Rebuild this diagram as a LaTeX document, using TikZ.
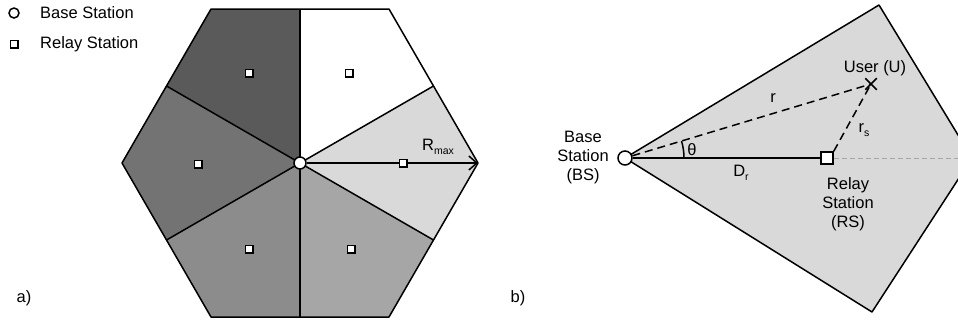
\documentclass[tikz,border=0pt]{standalone}
\usepackage{fontspec}
\setmainfont{Liberation Sans}
\usetikzlibrary{arrows.meta,shapes.misc,calc}
\newcommand\lowsub[1]{\raisebox{-0.28em}{\fontsize{10.5}{10.5}\selectfont #1}}
\definecolor{secA}{HTML}{5A5A5A}
\definecolor{secB}{HTML}{737373}
\definecolor{secC}{HTML}{8C8C8C}
\definecolor{secD}{HTML}{A6A6A6}
\definecolor{secE}{HTML}{D9D9D9}
\tikzset{
  edge/.style={line width=1.5pt, line join=round},
  bsnode/.style={circle, draw, fill=white, line width=1.5pt, inner sep=0pt, minimum size=#1},
  rsnode/.style={rectangle, draw, fill=white, line width=1.5pt, inner sep=0pt, minimum size=#1},
  lbl/.style={font=\fontsize{16.5}{19}\selectfont, inner sep=0pt},
  dashline/.style={line width=1.5pt, dash pattern=on 8pt off 5pt},
}
\begin{document}
\begin{tikzpicture}[x=1pt,y=-1pt]
\clip (0,0) rectangle (958,325);
\useasboundingbox (0,0) rectangle (958,325);

% ---- legend ----
\node[bsnode=10pt] (lgbs) at (14,13) {};
\node[rsnode=7.5pt] (lgrs) at (14,44) {};
\node[lbl, anchor=west] (lgbst) at (40,13) {Base Station};
\node[lbl, anchor=west] (lgrst) at (40,44) {Relay Station};

% ---- a) hexagonal cell split in six sectors ----
\coordinate (h0) at (478,163);
\coordinate (h60) at (389,9);
\coordinate (h120) at (211,9);
\coordinate (h180) at (122,163);
\coordinate (h240) at (211,317);
\coordinate (h300) at (389,317);
\coordinate (m30) at (433.5,86);
\coordinate (m90) at (300,9);
\coordinate (m150) at (166.5,86);
\coordinate (m210) at (166.5,240);
\coordinate (m270) at (300,317);
\coordinate (m330) at (433.5,240);
\coordinate (hc) at (300,163);

\fill[white] (hc) -- (m30) -- (h60) -- (m90) -- cycle;
\fill[secA] (hc) -- (m90) -- (h120) -- (m150) -- cycle;
\fill[secB] (hc) -- (m150) -- (h180) -- (m210) -- cycle;
\fill[secC] (hc) -- (m210) -- (h240) -- (m270) -- cycle;
\fill[secD] (hc) -- (m270) -- (h300) -- (m330) -- cycle;
\fill[secE] (hc) -- (m330) -- (h0) -- (m30) -- cycle;

\draw[edge] (h0) -- (h60) -- (h120) -- (h180) -- (h240) -- (h300) -- cycle;
\foreach \m in {m30,m90,m150,m210,m270,m330} \draw[edge] (hc) -- (\m);

\node[bsnode=12pt] (bsa) at (hc) {};
\draw[line width=1.5pt, -{Straight Barb[length=8pt,width=14pt,line width=1.5pt]}] (bsa) -- (h0);

\node[rsnode=7.5pt] (rs1) at (249,73) {};
\node[rsnode=7.5pt] (rs2) at (349,73) {};
\node[rsnode=7.5pt] (rs3) at (198,164) {};
\node[rsnode=7.5pt] (rs4) at (249,249) {};
\node[rsnode=7.5pt] (rs5) at (351,249) {};
\node[rsnode=7.5pt] (rs6) at (403,163) {};
\node[lbl] (rmax) at (438,147) {R\lowsub{max}};
\node[lbl] (la) at (24,298) {a)};

% ---- b) one sector with base station, relay and user ----
\coordinate (ptop) at (879,5);
\coordinate (pright) at (972,158);
\coordinate (pbot) at (872,312);
\coordinate (pbs) at (625,158);
\fill[secE] (pbs) -- (ptop) -- (pright) -- (pbot) -- cycle;
\draw[edge] (pbs) -- (ptop) -- (pright) -- (pbot) -- cycle;

\node[bsnode=14pt] (bs) at (pbs) {};
\node[rsnode=12pt] (rs) at (827,158) {};
\node[cross out, draw, line width=1.5pt, minimum size=10pt, inner sep=0pt] (user) at (871,84) {};

\draw[line width=0.8pt, gray!70, dash pattern=on 5pt off 3pt] (rs.east) -- (pright);
\draw[line width=1.5pt] (bs) -- (rs);
\draw[dashline] (bs) -- (user.center);
\draw[dashline] (rs.north east) -- (user.center);
\draw[line width=1.5pt] ($(bs)+(59,0)$) arc[start angle=0, end angle=-16.7, radius=59];

\node[lbl] (lr) at (773,98) {r};
\node[lbl] (lrs) at (864,130) {r\lowsub{s}};
\node[lbl] (lth) at (692,150) {θ};
\node[lbl] (ldr) at (741,173) {D\lowsub{r}};
\node[lbl] (luser) at (875,68) {User (U)};
\node[lbl, align=center] (lbs) at (583,158) {Base\\Station\\(BS)};
\node[lbl, align=center] (lrsn) at (848,204) {Relay\\Station\\(RS)};
\node[lbl] (lb) at (518,298) {b)};
\end{tikzpicture}
\end{document}
